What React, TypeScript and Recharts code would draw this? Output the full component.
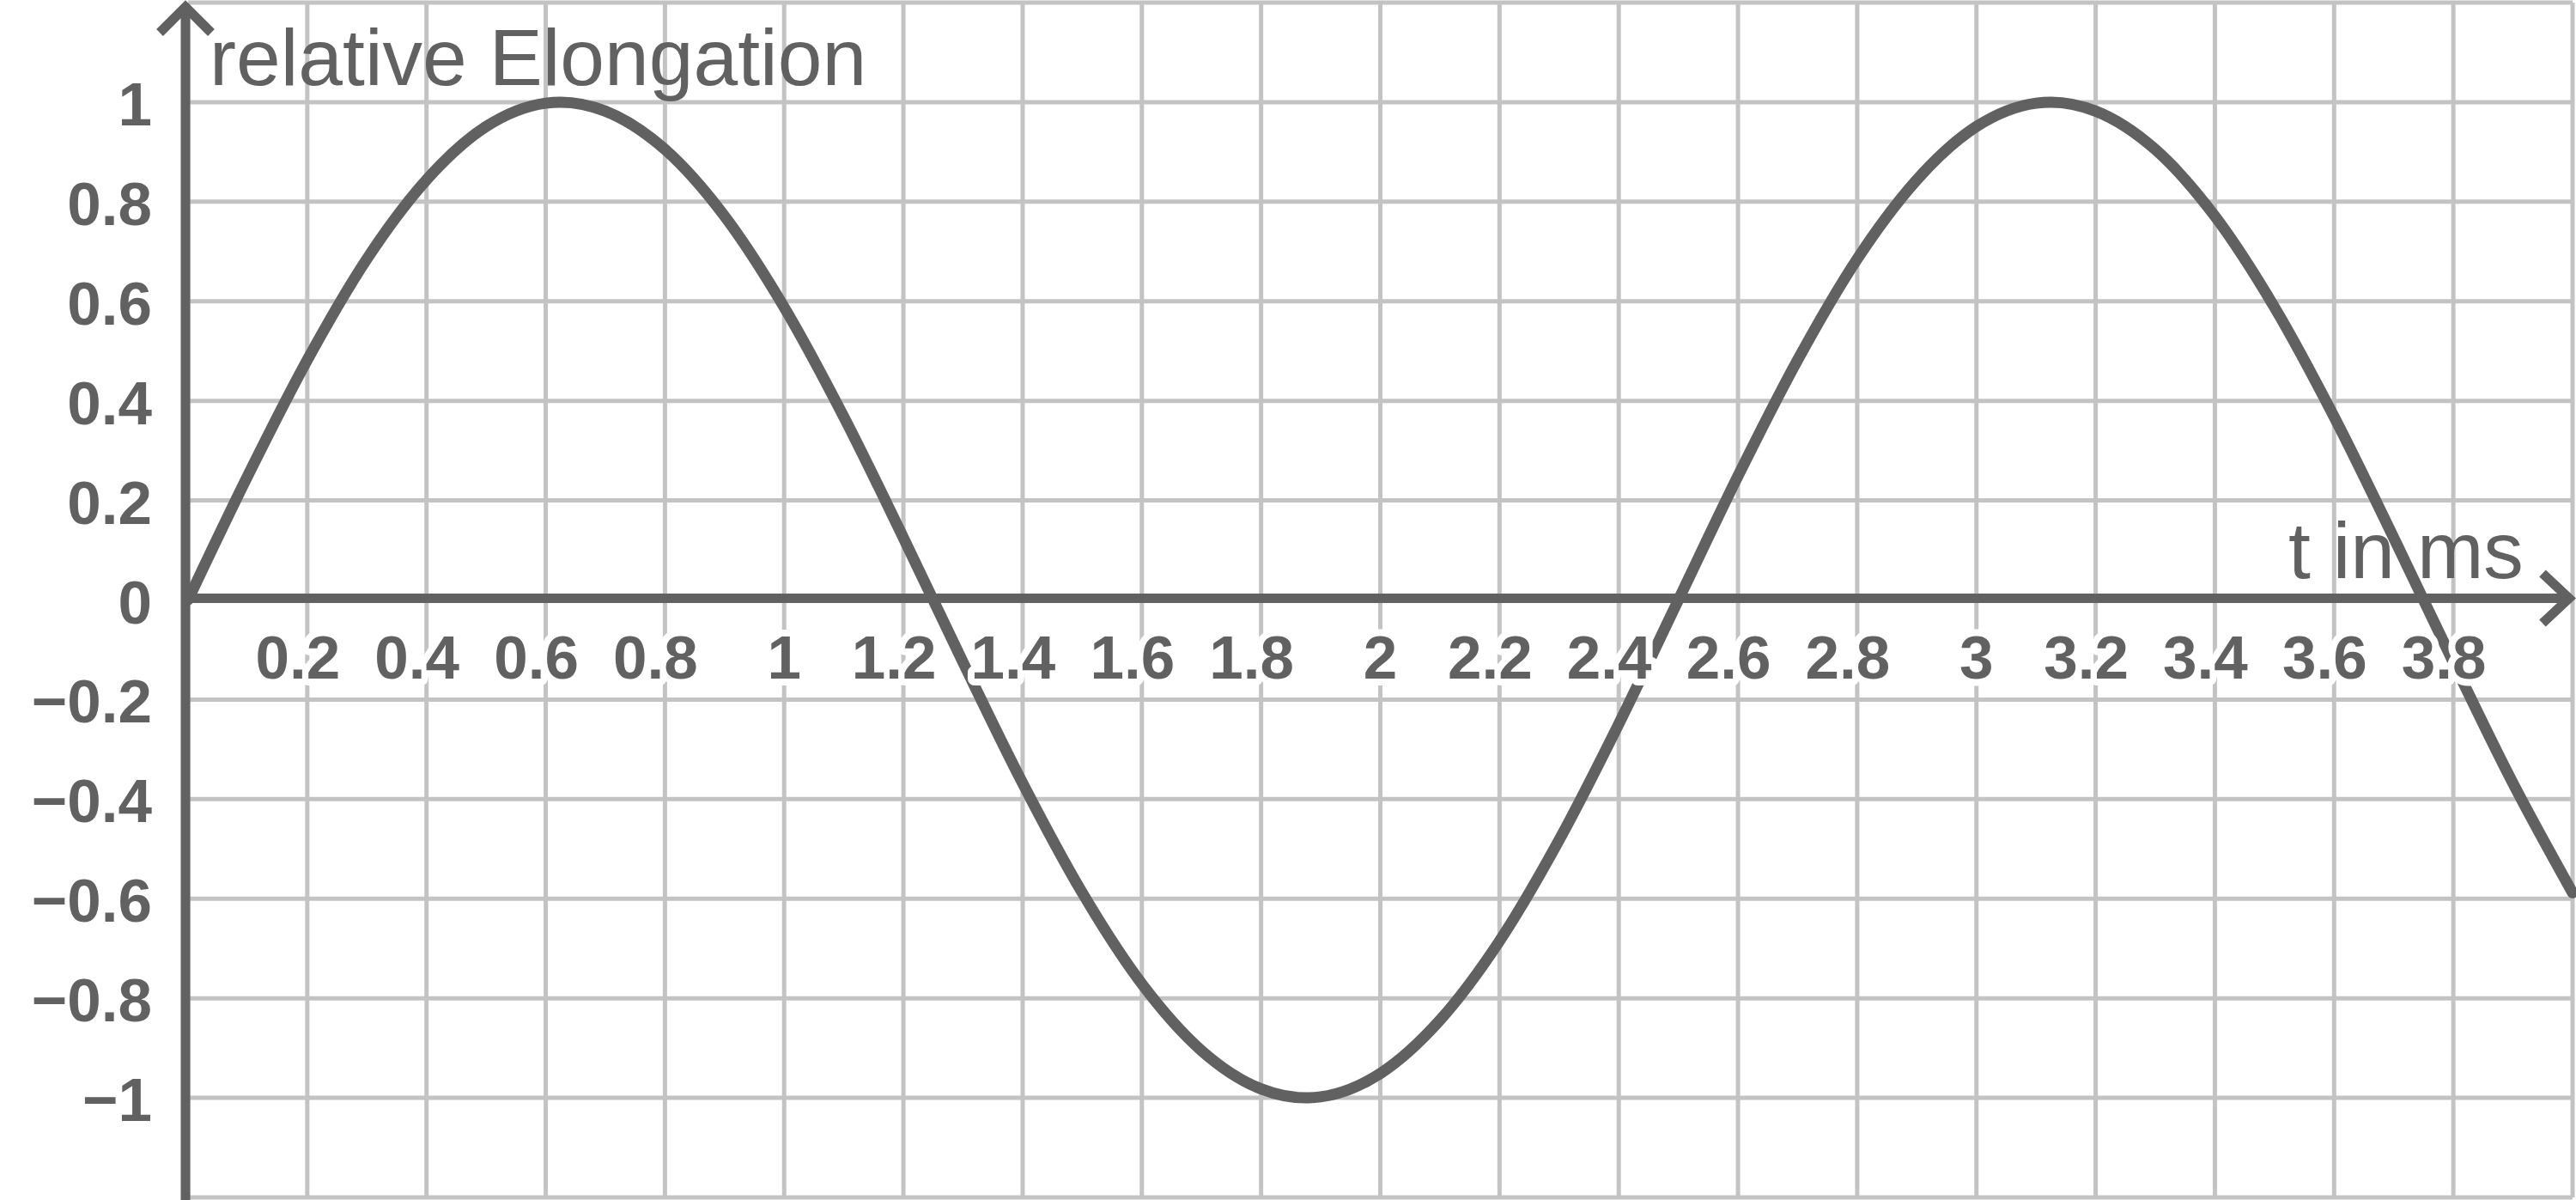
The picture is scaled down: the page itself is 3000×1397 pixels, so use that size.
import React from "react";
import { LineChart, Line, XAxis, YAxis, CartesianGrid, ReferenceLine } from "recharts";

// time in ms
const TIMES = [
  0, 0.1, 0.2, 0.3, 0.4, 0.5, 0.6, 0.625, 0.7, 0.8, 0.9, 1.0, 1.1, 1.2, 1.3, 1.4, 1.5, 1.6, 1.7, 1.8,
  1.875, 1.9, 2.0, 2.1, 2.2, 2.3, 2.4, 2.5, 2.6, 2.7, 2.8, 2.9, 3.0, 3.1, 3.125, 3.2, 3.3, 3.4, 3.5,
  3.6, 3.7, 3.8, 3.9, 4.0,
];
// relative elongation
const ELONGATION = [
  0, 0.249, 0.482, 0.685, 0.844, 0.951, 0.998, 1.0, 0.982, 0.905, 0.771, 0.588, 0.368, 0.125, -0.125,
  -0.368, -0.588, -0.771, -0.905, -0.982, -1.0, -0.998, -0.951, -0.844, -0.685, -0.482, -0.249, 0,
  0.249, 0.482, 0.685, 0.844, 0.951, 0.998, 1.0, 0.982, 0.905, 0.771, 0.588, 0.368, 0.125, -0.125,
  -0.368, -0.588,
];
const X_TICKS = [0, 0.2, 0.4, 0.6, 0.8, 1, 1.2, 1.4, 1.6, 1.8, 2, 2.2, 2.4, 2.6, 2.8, 3, 3.2, 3.4, 3.6, 3.8, 4];
const X_LABELS = ["", "0.2", "0.4", "0.6", "0.8", "1", "1.2", "1.4", "1.6", "1.8", "2", "2.2", "2.4", "2.6", "2.8", "3", "3.2", "3.4", "3.6", "3.8", ""];
const Y_TICKS = [-1.2, -1, -0.8, -0.6, -0.4, -0.2, 0, 0.2, 0.4, 0.6, 0.8, 1, 1.2];
const Y_LABELS = ["", "\u22121", "\u22120.8", "\u22120.6", "\u22120.4", "\u22120.2", "0", "0.2", "0.4", "0.6", "0.8", "1", ""];
const Y_TITLE = "relative Elongation";
const X_TITLE = "t in ms";

const data = TIMES.map((t, i) => ({ t, v: ELONGATION[i] }));

const W = 3000;
const H = 1397;
const X_AXIS_H = 3;
const M = { top: 3, right: 4, bottom: 0, left: 0 };
const Y_AXIS_W = 219;
const PLOT_H = H - M.top - M.bottom - X_AXIS_H;
const Y_ZERO = M.top + PLOT_H / 2;

const DARK = "#616161";
const GRID = "#c3c3c3";
const FONT = "'Liberation Sans', Arial, Helvetica, sans-serif";

const XTick = (props: any) => {
  const { x, index } = props;
  const label = X_LABELS[index] ?? "";
  if (!label) return <g />;
  const dx = label.includes(".") ? -11 : 0;
  return (
    <text
      x={x + dx}
      y={Y_ZERO + 91}
      textAnchor="middle"
      fontFamily={FONT}
      fontWeight="bold"
      fontSize={71}
      fill={DARK}
      stroke="#ffffff"
      strokeWidth={16}
      strokeLinejoin="round"
      style={{ paintOrder: "stroke" }}
    >
      {label}
    </text>
  );
};

const YTick = (props: any) => {
  const { x, y, index } = props;
  const label = Y_LABELS[index] ?? "";
  if (!label) return <g />;
  return (
    <text x={x} y={y + 27} textAnchor="end" fontFamily={FONT} fontWeight="bold" fontSize={71} fill={DARK}>
      {label}
    </text>
  );
};

const XAxisLine = (props: any) => {
  const { x1, y1, x2 } = props;
  const tip = x2 - 4;
  return (
    <g stroke={DARK} strokeWidth={11} fill="none">
      <line x1={x1 - 8} y1={y1 - 2} x2={tip} y2={y1 - 2} />
      <polyline points={`${tip - 31},${y1 - 31} ${tip},${y1 - 2} ${tip - 31},${y1 + 27}`} strokeLinejoin="miter" />
    </g>
  );
};

const YAxisLine = (props: any) => {
  const { x1, y2, y1 } = props;
  const top = Math.min(y1, y2) + 5;
  const bottom = Math.max(y1, y2) + 5;
  const x = x1 - 3;
  return (
    <g stroke={DARK} strokeWidth={11} fill="none">
      <line x1={x} y1={bottom} x2={x} y2={top} />
      <polyline points={`${x - 30},${top + 30} ${x},${top} ${x + 30},${top + 30}`} strokeLinejoin="miter" />
    </g>
  );
};

export default function App() {
  return (
    <div style={{ width: W, height: H, background: "#ffffff" }}>
      <style>{"body{margin:0;background:#fff}"}</style>
      <LineChart width={W} height={H} data={data} margin={M}>
        <CartesianGrid stroke={GRID} strokeWidth={5} zIndex={-100} />
        <XAxis
          dataKey="t"
          type="number"
          domain={[0, 4]}
          ticks={X_TICKS}
          interval={0}
          height={X_AXIS_H}
          axisLine={false}
          tickLine={false}
          tick={(p: any) => <XTick {...p} />}
          zIndex={100}
        />
        <YAxis
          type="number"
          domain={[-1.2, 1.2]}
          ticks={Y_TICKS}
          interval={0}
          width={Y_AXIS_W}
          axisLine={false}
          tickLine={false}
          tickSize={0}
          tickMargin={42}
          tick={(p: any) => <YTick {...p} />}
          zIndex={100}
        />
        <text x={244} y={99} fontFamily={FONT} fontSize={93} fill={DARK}>
          {Y_TITLE}
        </text>
        <text x={2665} y={673} fontFamily={FONT} fontSize={93} fill={DARK}>
          {X_TITLE}
        </text>
        <ReferenceLine y={0} stroke={DARK} shape={(p: any) => <XAxisLine {...p} />} zIndex={200} />
        <ReferenceLine x={0} stroke={DARK} shape={(p: any) => <YAxisLine {...p} />} zIndex={200} />
        <Line
          type="monotone"
          dataKey="v"
          stroke={DARK}
          strokeWidth={13}
          strokeLinecap="round"
          dot={false}
          activeDot={false}
          isAnimationActive={false}
          zIndex={900}
        />
      </LineChart>
    </div>
  );
}
